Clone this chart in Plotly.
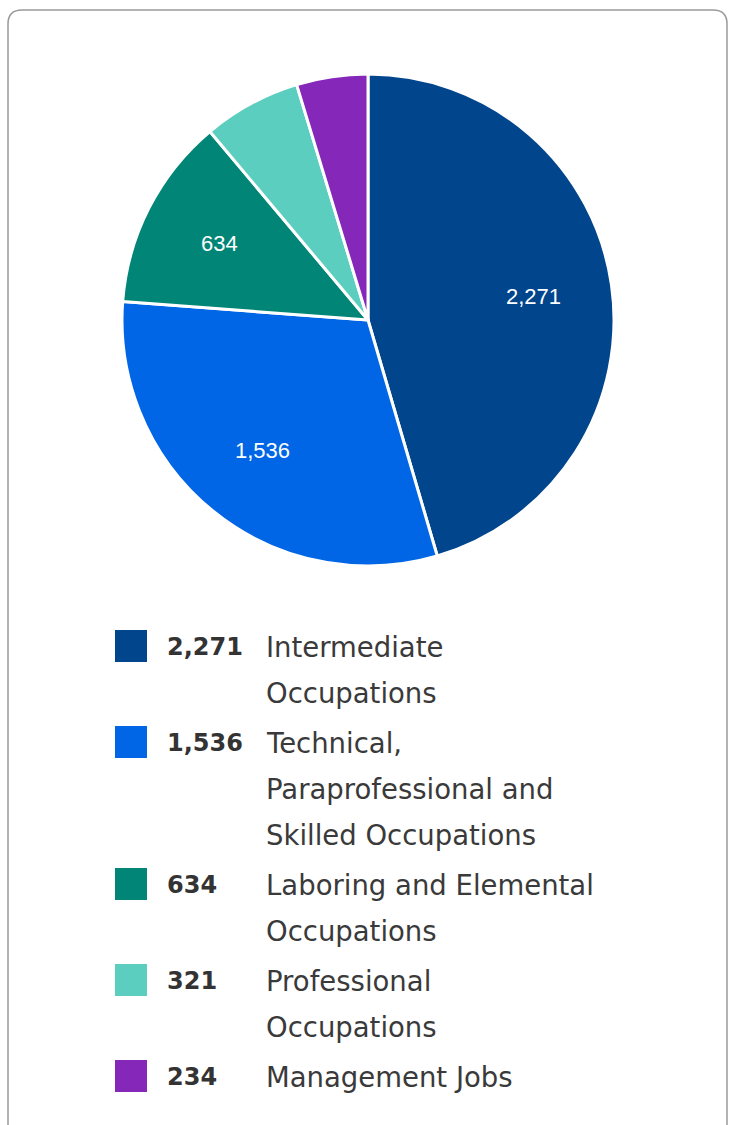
import math
import plotly.graph_objects as go

# ---- data ----
categories = [
    "Intermediate Occupations",
    "Technical, Paraprofessional and Skilled Occupations",
    "Laboring and Elemental Occupations",
    "Professional Occupations",
    "Management Jobs",
]
values = [2271, 1536, 634, 321, 234]
legend_lines = [
    ["Intermediate", "Occupations"],
    ["Technical,", "Paraprofessional and", "Skilled Occupations"],
    ["Laboring and Elemental", "Occupations"],
    ["Professional", "Occupations"],
    ["Management Jobs"],
]
colors = ["#01458C", "#0066E6", "#008577", "#5BCEC0", "#8527B8"]
label_min_share = 0.1  # slices smaller than this get no inside label

W, H = 734, 1125


def px(x):
    return x / W


def py(y):
    return 1 - y / H


# pie geometry (pixels)
cx, cy, R = 368, 320, 246

fig = go.Figure()
fig.add_trace(go.Pie(
    labels=categories,
    values=values,
    sort=False,
    direction="clockwise",
    rotation=0,
    marker=dict(colors=colors, line=dict(color="white", width=3)),
    textinfo="none",
    hoverinfo="label+value",
    showlegend=False,
    domain=dict(x=[px(cx - R), px(cx + R)], y=[py(cy + R), py(cy - R)]),
))

annotations = []
shapes = []

# card border
l, t, r, b, rad = 8, 10, 727, 1160, 14
path = (
    f"M {px(l + rad)} {py(t)} L {px(r - rad)} {py(t)} "
    f"Q {px(r)} {py(t)} {px(r)} {py(t + rad)} "
    f"L {px(r)} {py(b - rad)} Q {px(r)} {py(b)} {px(r - rad)} {py(b)} "
    f"L {px(l + rad)} {py(b)} Q {px(l)} {py(b)} {px(l)} {py(b - rad)} "
    f"L {px(l)} {py(t + rad)} Q {px(l)} {py(t)} {px(l + rad)} {py(t)} Z"
)
shapes.append(dict(type="path", xref="paper", yref="paper", path=path,
                   line=dict(color="#9A9A9A", width=1.5), layer="below"))

# inside labels computed from the values
total = sum(values)
cum = 0
for v in values:
    share = v / total
    mid = (cum + v / 2) / total * 2 * math.pi
    cum += v
    if share < label_min_share:
        continue
    rr = 0.68 * R
    x = cx + rr * math.sin(mid)
    y = cy - rr * math.cos(mid)
    annotations.append(dict(
        x=px(x), y=py(y), xref="paper", yref="paper", showarrow=False,
        text=f"{v:,}", xanchor="center", yanchor="middle",
        font=dict(family="Liberation Sans, Arial", size=22, color="white"),
    ))

# custom legend
row_top = 646
line_h = 46
row_gap = 4
font_fam = "DejaVu Sans"
y = row_top
for i, (v, lines, c) in enumerate(zip(values, legend_lines, colors)):
    shapes.append(dict(type="rect", xref="paper", yref="paper",
                       x0=px(115), x1=px(147), y0=py(y - 16), y1=py(y + 16),
                       fillcolor=c, line=dict(width=0)))
    annotations.append(dict(
        x=px(165), y=py(y + 1), xref="paper", yref="paper", showarrow=False,
        text=f"<b>{v:,}</b>", xanchor="left", yanchor="middle",
        font=dict(family=font_fam, size=24, color="#333333"),
    ))
    for j, ln in enumerate(lines):
        annotations.append(dict(
            x=px(264), y=py(y + 1 + j * line_h), xref="paper", yref="paper",
            showarrow=False, text=ln, xanchor="left", yanchor="middle",
            font=dict(family=font_fam, size=27.5, color="#3A3A3A"),
        ))
    y += len(lines) * line_h + row_gap

fig.update_layout(
    width=W, height=H,
    margin=dict(l=0, r=0, t=0, b=0),
    paper_bgcolor="white", plot_bgcolor="white",
    shapes=shapes, annotations=annotations,
)
fig.write_html("out.html", config={"displayModeBar": False})

# remove the default 8px body margin so the figure fills the window exactly
with open("out.html", "r", encoding="utf-8") as f:
    html = f.read()
html = html.replace("<body>", '<body style="margin:0;overflow:hidden">', 1)
with open("out.html", "w", encoding="utf-8") as f:
    f.write(html)
